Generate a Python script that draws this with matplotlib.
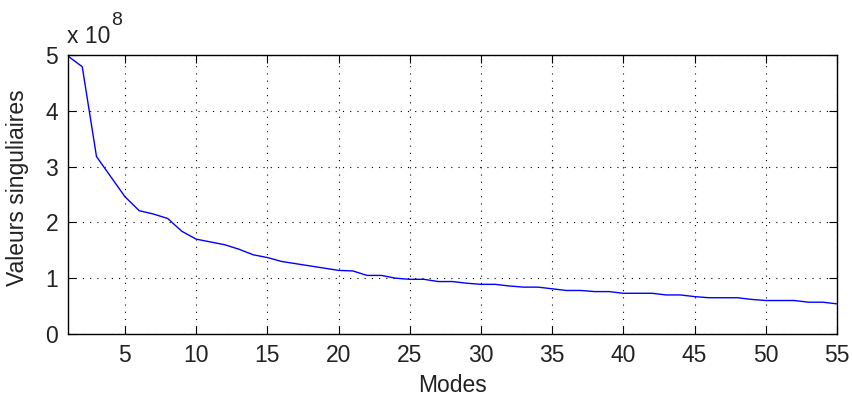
""" singular values decay plot """

import matplotlib
matplotlib.use('Agg')
import matplotlib.pyplot as plt

OUT_FN = 'out.png'

## DATA (singular values, in units of 1e8) ##
modes = list(range(1, 56))
valeurs = [4.98, 4.79, 3.18, 2.82, 2.46, 2.21, 2.15, 2.07, 1.84, 1.70,
           1.65, 1.60, 1.52, 1.42, 1.37, 1.30, 1.26, 1.22, 1.18, 1.14,
           1.13, 1.05, 1.05, 1.00, 0.98, 0.98, 0.94, 0.94, 0.91, 0.89,
           0.89, 0.86, 0.84, 0.84, 0.81, 0.78, 0.78, 0.76, 0.76, 0.73,
           0.73, 0.73, 0.70, 0.70, 0.67, 0.65, 0.65, 0.65, 0.62, 0.60,
           0.60, 0.60, 0.57, 0.57, 0.54]
xticks = list(range(5, 56, 5))
yticks = [0, 1, 2, 3, 4, 5]

TICK_FONT = ['Liberation Sans Narrow', 'Liberation Sans', 'DejaVu Sans']
LABEL_FONT = ['Liberation Sans', 'DejaVu Sans']
plt.rcParams['font.family'] = LABEL_FONT

fig = plt.figure(figsize=(8.53, 3.96), dpi=100)
ax = fig.add_axes([68 / 853, 62 / 396, (837 - 68) / 853, (334 - 55) / 396])

ax.plot(modes, valeurs, color='#0000ff', linewidth=1.0)

ax.set_xlim(1, 55)
ax.set_ylim(0, 5)
ax.set_xticks(xticks)
ax.set_yticks(yticks)
ax.grid(True, color='black', linestyle=(0, (1, 5.5)), linewidth=0.8)
ax.tick_params(direction='in', top=True, right=True, length=5.5,
               width=0.8, colors='black', pad=7)
for lab in ax.get_xticklabels() + ax.get_yticklabels():
    lab.set_family(TICK_FONT)
    lab.set_fontsize(16.5)
    lab.set_color('#222222')
for s in ax.spines.values():
    s.set_linewidth(1.0)

ax.set_xlabel('Modes', fontsize=16.5, color='#222222')
ax.set_ylabel('Valeurs singuliaires', fontsize=16.5, color='#222222')
ax.xaxis.set_label_coords(0.5, -0.143)
ax.yaxis.set_label_coords(-0.0505, 0.523)

# MATLAB style exponent label
fig.text(67 / 853, 1 - 43 / 396, 'x 10', fontsize=16.5, color='#222222',
         ha='left', va='baseline')
fig.text(111 / 853, 1 - 25 / 396, '8', fontsize=14, color='#222222',
         ha='left', va='baseline')

plt.savefig(OUT_FN, dpi=100)
